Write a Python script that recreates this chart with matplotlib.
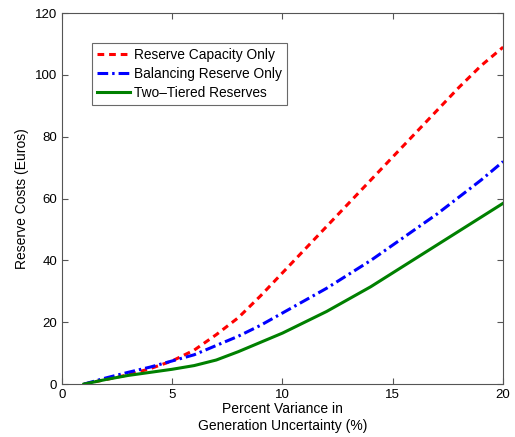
import matplotlib
matplotlib.use("Agg")
import matplotlib.pyplot as plt

plt.rcParams['font.family'] = ['Liberation Sans', 'DejaVu Sans']

x = [1, 2, 3, 4, 5, 6, 7, 8, 9, 10, 11, 12, 13, 14, 15, 16, 17, 18, 19, 20]
capacity_only = [0, 1.5, 3, 5, 7.5, 11, 16, 21.5, 28.5, 36, 43.5, 51, 58.5, 66, 73.5, 81, 88.5, 96, 103, 109]
balancing_only = [0, 2, 3.8, 5.5, 7.5, 9.5, 12.5, 15.5, 19, 23, 27, 31, 35.5, 40, 45, 50, 55, 60.5, 66, 72]
two_tiered = [0, 1.5, 2.8, 3.8, 4.8, 6, 7.8, 10.5, 13.5, 16.5, 20, 23.5, 27.5, 31.5, 36, 40.5, 45, 49.5, 54, 58.5]

fig = plt.figure(figsize=(5.15, 4.37), dpi=100)
ax = fig.add_axes([0.12, 0.121, 0.857, 0.849])

ax.plot(x, capacity_only, color='red', linestyle=(0, (2.2, 1.6)), linewidth=2.2, label='Reserve Capacity Only')
ax.plot(x, balancing_only, color='blue', linestyle=(0, (3.5, 1.3, 0.8, 1.3)), linewidth=2.2, label='Balancing Reserve Only')
ax.plot(x, two_tiered, color='green', linestyle='-', linewidth=2.2, label='Two\u2013Tiered Reserves')

ax.set_xlim(0, 20)
ax.set_ylim(0, 120)
ax.set_xticks([0, 5, 10, 15, 20])
ax.set_yticks([0, 20, 40, 60, 80, 100, 120])
ax.tick_params(direction='in', top=True, right=True, labelsize=9.5, length=4, color='#555555')
for s in ax.spines.values():
    s.set_color('#555555')
ax.set_xlabel('Percent Variance in\nGeneration Uncertainty (%)', fontsize=10, labelpad=1)
ax.set_ylabel('Reserve Costs (Euros)', fontsize=10)

leg = ax.legend(loc='upper left', bbox_to_anchor=(0.068, 0.92), fontsize=9.9, frameon=True,
                fancybox=False, edgecolor='#444444', handlelength=2.4, handletextpad=0.25,
                borderpad=0.4, labelspacing=0.35, borderaxespad=0)
leg.get_frame().set_linewidth(0.8)

fig.savefig('out.png', dpi=100)
